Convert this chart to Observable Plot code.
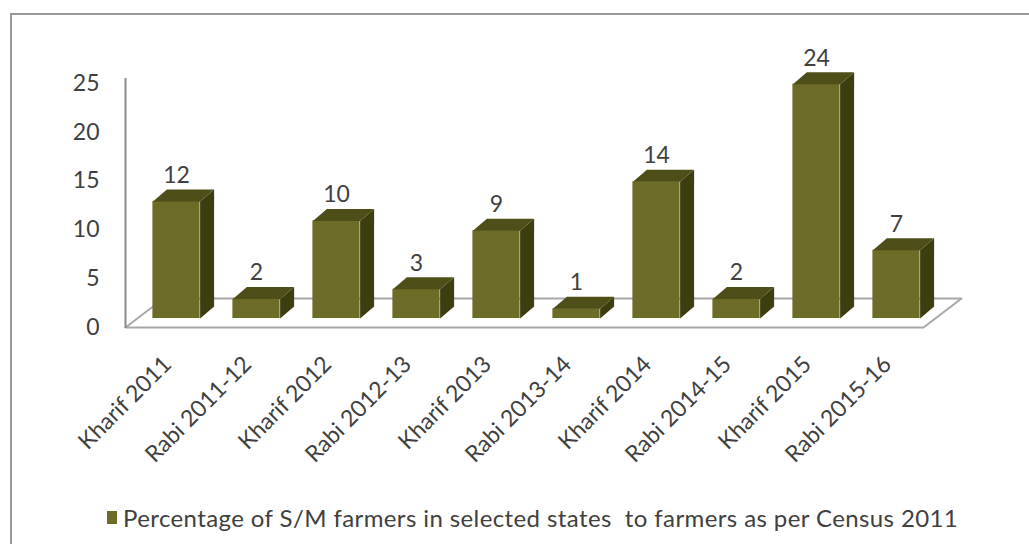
<!DOCTYPE html>
<html>
<head>
<meta charset="utf-8">
<script src="https://cdn.jsdelivr.net/npm/d3@7"></script>
<script src="https://cdn.jsdelivr.net/npm/@observablehq/plot@0.6"></script>
<style>
  html, body { margin: 0; padding: 0; background: #fff; width: 1029px; height: 544px; overflow: hidden; }
  #wrap { position: relative; width: 1029px; height: 544px; }
  #border { position: absolute; left: 10px; top: 13px; width: 1100px; height: 600px; border: 2px solid #9a9a9a; box-sizing: border-box; }
  #chart { position: absolute; left: 0; top: 0; }
  #legend { position: absolute; left: 107px; top: 502px; height: 30px; display: flex; align-items: center;
            font-family: Lato, "Open Sans", sans-serif; font-size: 24px; letter-spacing: 0.4px; color: #404040; white-space: pre; }
  #legend .sw { width: 10px; height: 13px; background: #6d6c26; margin-right: 6px; }
</style>
</head>
<body>
<div id="wrap">
  <div id="border"></div>
  <div id="chart"></div>
  <div id="legend"><span class="sw"></span><span id="legtext"></span></div>
</div>
<script>
const categories = ["Kharif 2011","Rabi 2011-12","Kharif 2012","Rabi 2012-13","Kharif 2013","Rabi 2013-14","Kharif 2014","Rabi 2014-15","Kharif 2015","Rabi 2015-16"];
const values = [12, 2, 10, 3, 9, 1, 14, 2, 24, 7];
const yTicks = [0, 5, 10, 15, 20, 25];
const seriesName = "Percentage of S/M farmers in selected states  to farmers as per Census 2011";

const frontColor = "#6d6c26";
const topColor = "#4d4e18";
const sideColor = "#3c3d10";
const textColor = "#404040";

// 3D depth (in data units of the x/y scales)
const depthX = 0.175, depthY = 1.23;   // bar depth
const floorDX = 0.475, floorDY = 2.97; // floor depth
const barL = 0.205, barR = 0.795;
const axisX = -0.1375;

const data = categories.map((c, i) => ({cat: c, i, v: values[i]}));

const floor = [
  {x: axisX, y: 0},
  {x: categories.length - 0.1625, y: 0},
  {x: categories.length - 0.1625 + floorDX, y: floorDY},
  {x: axisX + floorDX, y: floorDY}
];

const sides = data.flatMap(d => [
  {k: d.i, x: d.i + barR, y: 0},
  {k: d.i, x: d.i + barR, y: d.v},
  {k: d.i, x: d.i + barR + depthX, y: d.v + depthY},
  {k: d.i, x: d.i + barR + depthX, y: depthY}
]);
const tops = data.flatMap(d => [
  {k: d.i, x: d.i + barL, y: d.v},
  {k: d.i, x: d.i + barR, y: d.v},
  {k: d.i, x: d.i + barR + depthX, y: d.v + depthY},
  {k: d.i, x: d.i + barL + depthX, y: d.v + depthY}
]);

const chart = Plot.plot({
  width: 1029,
  height: 490,
  marginLeft: 125,
  marginTop: 20,
  marginBottom: 20,
  marginRight: 20,
  style: {fontFamily: "Lato, 'Open Sans', sans-serif", fontSize: "22px", color: textColor, background: "transparent"},
  x: {type: "linear", domain: [0, categories.length], range: [136, 936], axis: null},
  y: {type: "linear", domain: [0, 25], range: [327, 83], axis: null},
  marks: [
    Plot.line(floor, {x: "x", y: "y", curve: "linear-closed", fill: "white", stroke: "#a8a8a8", strokeWidth: 2}),
    Plot.ruleX([axisX], {x: d => d, y1: -0.1, y2: 25.5, stroke: "#8a8a8a", strokeWidth: 2}),
    Plot.axisY({ticks: yTicks, tickSize: 0, tickPadding: 26, label: null, fontSize: 23, fill: textColor}),
    Plot.rect(data, {x1: d => d.i + barL, x2: d => d.i + barR, y1: 0, y2: "v", dy: -9, fill: frontColor}),
    Plot.line(sides, {x: "x", y: "y", z: "k", curve: "linear-closed", fill: sideColor, stroke: "none", dy: -9}),
    Plot.line(tops, {x: "x", y: "y", z: "k", curve: "linear-closed", fill: topColor, stroke: "none", dy: -9}),
    Plot.text(data, {x: d => d.i + 0.5, y: "v", text: d => String(d.v), dy: -35, fontSize: 23, fill: textColor}),
    Plot.text(data, {x: d => d.i + 0.5, y: 0, text: "cat", rotate: -45, textAnchor: "end", lineAnchor: "middle", dy: 33, dx: -9, fontSize: 23, fill: textColor})
  ]
});
document.getElementById("chart").appendChild(chart);
document.getElementById("legtext").textContent = seriesName;
</script>
</body>
</html>
